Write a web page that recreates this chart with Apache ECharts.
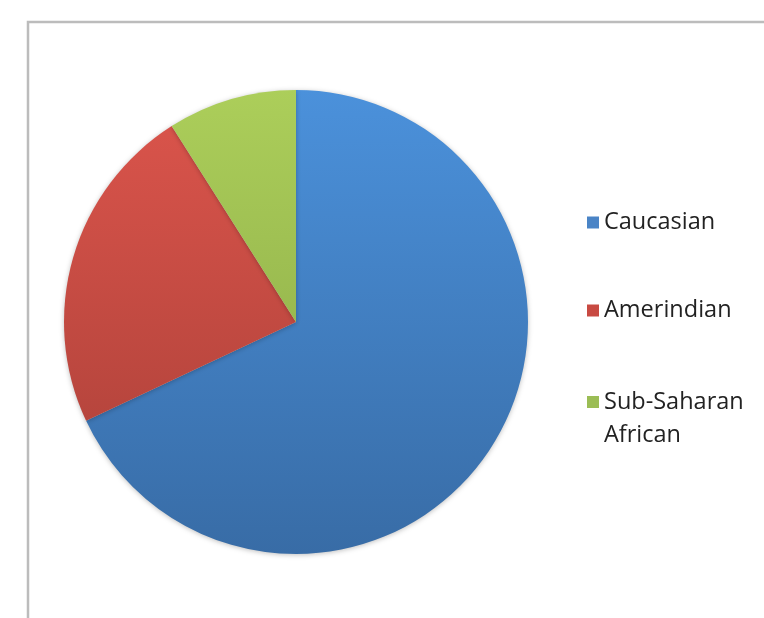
<!DOCTYPE html>
<html>
<head>
<meta charset="utf-8">
<script src="https://cdn.jsdelivr.net/npm/echarts@6/dist/echarts.min.js"></script>
<style>
  html, body { margin: 0; padding: 0; background: #fff; }
  #chart { width: 764px; height: 618px; }
</style>
</head>
<body>
<div id="chart"></div>
<script>
// data
const categories = ['Caucasian', 'Amerindian', 'Sub-Saharan African'];
const legendLabels = ['Caucasian', 'Amerindian', 'Sub-Saharan\nAfrican'];
const shares = [68, 23, 9];

// colours: [top of gradient, bottom of gradient, legend swatch]
const sliceColors = [
    ['#4b91db', '#386ca6', '#4a84c6'],
    ['#dc554c', '#a83f37', '#c84a42'],
    ['#acce5a', '#86a544', '#9bbd55']
];

const chart = echarts.init(document.getElementById('chart'));

const pieTop = 90, pieBottom = 554;

function grad(c) {
    return {
        type: 'linear', x: 0, y: pieTop, x2: 0, y2: pieBottom, global: true,
        colorStops: [{ offset: 0, color: c[0] }, { offset: 1, color: c[1] }]
    };
}

// one legend block per item; for the two-line label the swatch sits in the
// top of a taller icon box so it lines up with the first line of text
const legendCenters = [217.5, 305.5, 397];
const lh = 33;
const legends = categories.map((name, i) => {
    const twoLine = legendLabels[i].indexOf('\n') >= 0;
    const boxH = twoLine ? 12 + lh : 12;
    return {
        left: 582,
        top: legendCenters[i] - lh / 2,
        orient: 'vertical',
        itemWidth: 12,
        itemHeight: boxH,
        icon: twoLine ? 'path://M0,0H12V12H0Z M0,' + boxH + 'H0.01V' + (boxH + 0.01) + 'H0Z' : 'rect',
        selectedMode: false,
        formatter: () => legendLabels[i],
        data: [{ name: name, itemStyle: { color: sliceColors[i][2] } }],
        textStyle: {
            fontFamily: 'Open Sans',
            fontSize: 23.5,
            lineHeight: lh,
            color: '#222'
        }
    };
});

chart.setOption({
    animation: false,
    legend: legends,
    graphic: [{
        type: 'rect',
        shape: { x: 28, y: 22, width: 800, height: 700 },
        style: { fill: 'none', stroke: '#bcbcbc', lineWidth: 2.5 },
        silent: true
    }],
    series: [{
        type: 'pie',
        center: [296, 322],
        radius: 232,
        startAngle: 90,
        clockwise: true,
        label: { show: false },
        labelLine: { show: false },
        emphasis: { disabled: true },
        itemStyle: {
            borderWidth: 0,
            shadowBlur: 5,
            shadowColor: 'rgba(0,0,0,0.25)',
            shadowOffsetY: 1
        },
        data: categories.map((name, i) => ({
            name: name,
            value: shares[i],
            itemStyle: { color: grad(sliceColors[i]) }
        }))
    }]
});

window.addEventListener('resize', function () {
    chart.resize();
});
</script>
</body>
</html>
